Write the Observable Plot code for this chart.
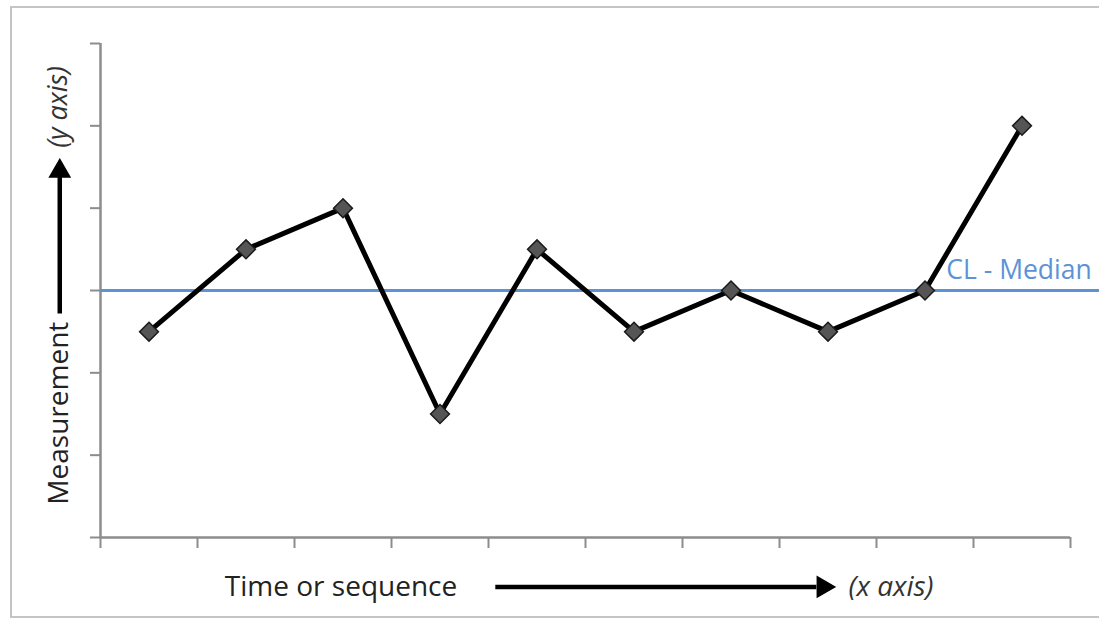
<!DOCTYPE html>
<html>
<head>
<meta charset="utf-8">
<script src="https://cdn.jsdelivr.net/npm/d3@7"></script>
<script src="https://cdn.jsdelivr.net/npm/@observablehq/plot@0.6"></script>
<style>
  html, body { margin: 0; padding: 0; background: #fff; }
  #wrap { position: relative; width: 1099px; height: 620px; overflow: hidden; }
  #border { position: absolute; left: 10px; top: 6px; width: 1089px; height: 612px;
            border: 2px solid #c4c4c4; border-right: none; box-sizing: border-box; pointer-events: none; }
  #wrap svg { display: block; }
</style>
</head>
<body>
<div id="wrap"><div id="border"></div></div>
<script>
// Data
const sequence = [1, 2, 3, 4, 5, 6, 7, 8, 9, 10];
const measurement = [2.5, 3.5, 4, 1.5, 3.5, 2.5, 3, 2.5, 3, 5];
const median = 3;
const medianLabel = "CL - Median";
const yTicks = [0, 1, 2, 3, 4, 5, 6];
const xTicks = [0, 1, 2, 3, 4, 5, 6, 7, 8, 9, 10];
const yTitle = "Measurement";
const yNote = "(y axis)";
const xTitle = "Time or sequence";
const xNote = "(x axis)";

const points = sequence.map((s, i) => ({x: s - 0.5, y: measurement[i]}));

const font = "'Open Sans', Lato, sans-serif";
const axisColor = "#8c8c8c";

const plot = Plot.plot({
  width: 1099,
  height: 620,
  marginLeft: 100,
  marginRight: 29,
  marginTop: 43,
  marginBottom: 83,
  style: {fontFamily: font, background: "transparent"},
  x: {domain: [0, 10], axis: null, label: null},
  y: {domain: [0, 6], axis: null, label: null},
  marks: [
    // axes
    Plot.axisY({ticks: yTicks, tickSize: 10, tickFormat: () => "", label: null, stroke: axisColor, strokeWidth: 2}),
    Plot.axisX({ticks: xTicks, tickSize: 11, tickFormat: () => "", label: null, stroke: axisColor, strokeWidth: 2, anchor: "bottom"}),
    Plot.ruleX([0], {stroke: axisColor, strokeWidth: 2.5}),
    Plot.ruleY([0], {stroke: axisColor, strokeWidth: 2.5}),
    // median center line
    Plot.ruleY([median], {x1: 0, x2: 10.31, stroke: "#5b93d6", strokeWidth: 3}),
    Plot.text([medianLabel], {x: 8.72, y: median, dy: -20, text: d => d, textAnchor: "start",
      fill: "#5b93d6", fontSize: 26.5, fontFamily: font}),
    // run line
    Plot.line(points, {x: "x", y: "y", stroke: "#000", strokeWidth: 5, strokeLinejoin: "round"}),
    Plot.dot(points, {x: "x", y: "y", symbol: "diamond2", r: 8.5, fill: "#555", stroke: "#1a1a1a", strokeWidth: 1.5}),
    // x-axis annotation
    Plot.text([xTitle], {x: 2.48, y: -0.6, text: d => d, fontSize: 28, fill: "#222", fontFamily: font}),
    Plot.link([0], {x1: 4.07, y1: -0.6, x2: 7.38, y2: -0.6, stroke: "#000", strokeWidth: 4.5}),
    Plot.dot([0], {x: 7.45, y: -0.6, symbol: "triangle", r: 7.5, rotate: 90, fill: "#000", stroke: "#000"}),
    Plot.text([xNote], {x: 8.15, y: -0.6, text: d => d, fontSize: 28, fontStyle: "italic", fill: "#333", fontFamily: font}),
    // y-axis annotation
    Plot.text([yTitle], {x: -0.43, y: 1.51, text: d => d, rotate: -90, fontSize: 28, fill: "#222", fontFamily: font}),
    Plot.link([0], {x1: -0.42, y1: 2.72, x2: -0.42, y2: 4.38, stroke: "#000", strokeWidth: 4.5}),
    Plot.dot([0], {x: -0.42, y: 4.45, symbol: "triangle", r: 7.5, fill: "#000", stroke: "#000"}),
    Plot.text([yNote], {x: -0.43, y: 5.23, text: d => d, rotate: -90, fontSize: 27, fontStyle: "italic", fill: "#333", fontFamily: font})
  ]
});
document.getElementById("wrap").prepend(plot);
</script>
</body>
</html>
